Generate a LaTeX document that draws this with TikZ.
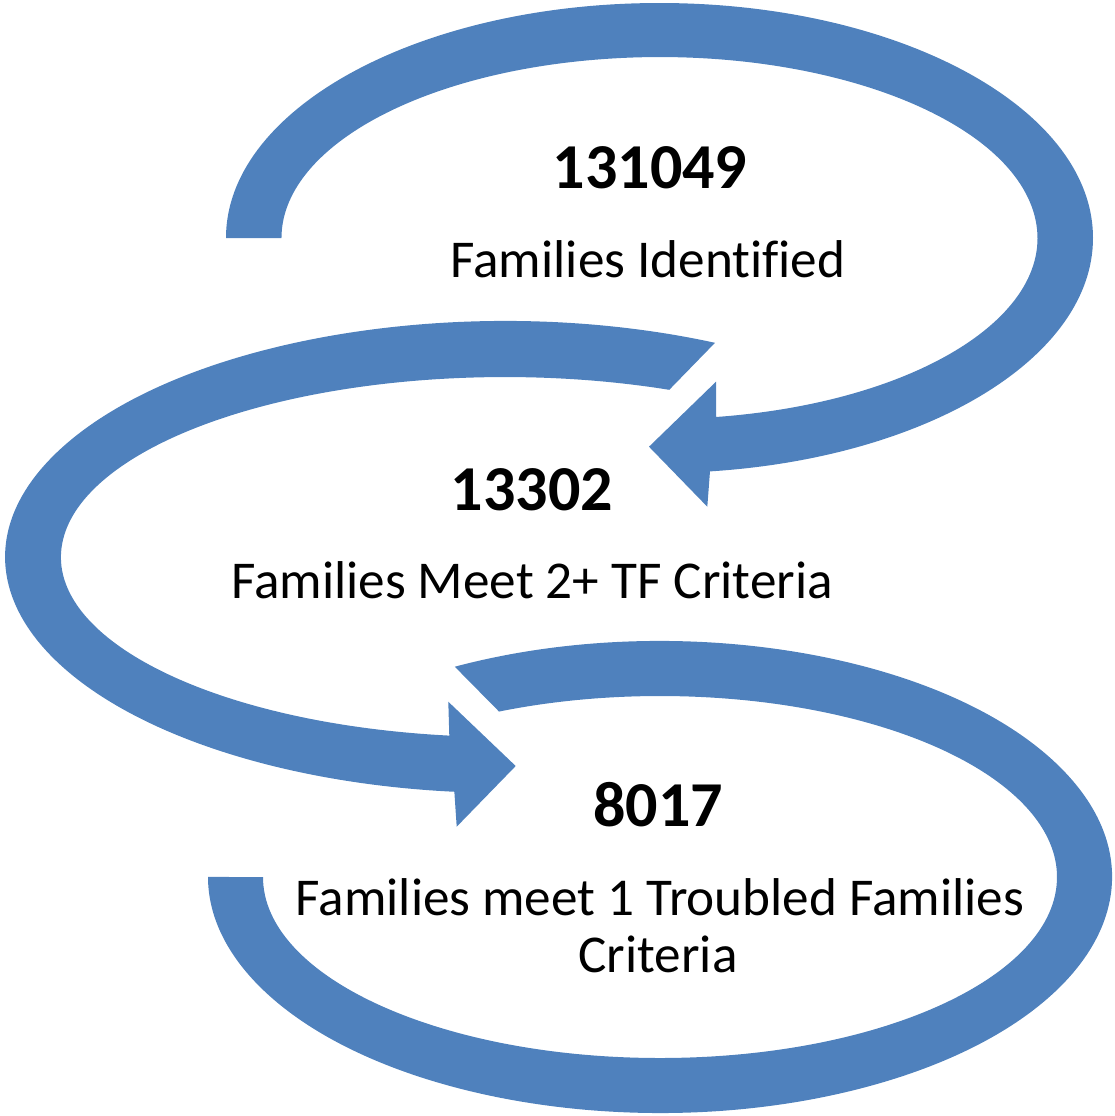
\documentclass[tikz,border=0pt]{standalone}
\usepackage{fontspec}
\setmainfont[Ligatures=NoCommon]{Carlito}
\definecolor{arrowblue}{RGB}{79,129,189}
\begin{document}
\begin{tikzpicture}[x=0.5pt,y=0.5pt,
  band/.style={fill=arrowblue,draw=none},
  numlabel/.style={anchor=base,inner sep=0pt,font=\fontsize{32pt}{36pt}\selectfont\bfseries},
  desclabel/.style={anchor=base,inner sep=0pt,font=\fontsize{26.6pt}{28.5pt}\selectfont}]
\useasboundingbox (0,0) rectangle (1115,-1116);
% arrow 1 (top)
\fill[band] (226,-238) arc[start angle=180,end angle=-83.31,x radius=433.5,y radius=235]
  -- (707.3,-506.7) -- (649,-446.7) -- (716,-381.7) -- (716,-417)
  arc[start angle=-81.4,end angle=180,x radius=378,y radius=181] -- cycle;
% arrow 2 (middle)
\fill[band] (715,-342.8) arc[start angle=65.17,end angle=264.18,x radius=500,y radius=236]
  -- (456.7,-826.7) -- (515.7,-766) -- (448.3,-701.7) -- (449.3,-735.6)
  arc[start angle=262.8,end angle=68.28,x radius=444,y radius=180] -- cycle;
% arrow 3 (bottom)
\fill[band] (454.8,-666.7) arc[start angle=117,end angle=-180,x radius=452,y radius=236]
  -- (263,-877)
  arc[start angle=-180,end angle=113.92,x radius=397,y radius=181] -- cycle;
% labels
\node[numlabel] (n1) at (650,-188.5) {131049};
\node[desclabel] (d1) at (648,-277) {Families Identified};
\node[numlabel] (n2) at (532,-510) {13302};
\node[desclabel] (d2) at (532,-598) {Families Meet 2+ TF Criteria};
\node[numlabel] (n3) at (658,-826) {8017};
\node[desclabel] (d3a) at (660,-915) {Families meet 1 Troubled Families};
\node[desclabel] (d3b) at (658,-972) {Criteria};
\end{tikzpicture}
\end{document}
